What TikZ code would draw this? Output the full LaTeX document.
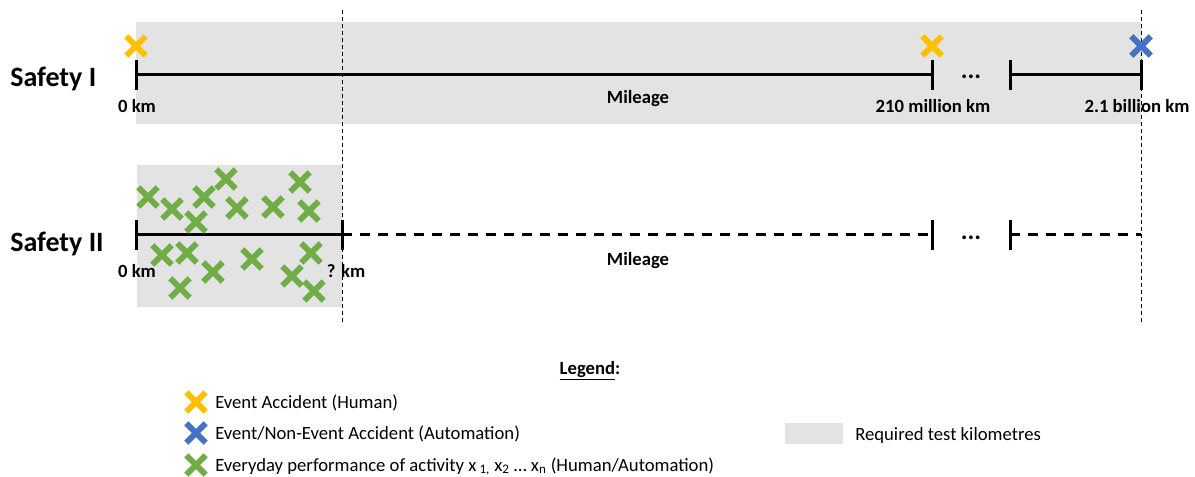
\documentclass[tikz,border=0pt]{standalone}
\usepackage{fontspec}
\setmainfont{Carlito}
\usetikzlibrary{positioning}
\usetikzlibrary{shapes.misc}
\definecolor{eventyellow}{RGB}{255,192,0}
\definecolor{eventblue}{RGB}{68,114,196}
\definecolor{everydaygreen}{RGB}{112,173,71}
\definecolor{testgray}{RGB}{227,227,227}

\begin{document}
\begin{tikzpicture}[x=0.75pt, y=-0.75pt,
  every node/.style={font=\fontsize{14}{16}\selectfont},
  title/.style={font=\fontsize{21}{24}\selectfont\bfseries, anchor=base west, inner sep=0pt},
  kmlabel/.style={font=\fontsize{14}{16}\selectfont\bfseries, anchor=base},
  dots/.style={font=\fontsize{19}{20}\selectfont\bfseries, anchor=base},
  legendtext/.style={anchor=base west, inner sep=0pt},
  xmark/.style={cross out, draw, line width=4.5pt, minimum size=10pt, inner sep=0pt},
  axis/.style={line width=2.25pt},
  future/.style={axis, dash pattern=on 7.5pt off 6pt},
  border/.style={line width=0.75pt, dash pattern=on 3pt off 2.25pt},
  testarea/.style={fill=testgray, draw=none},
]
  \useasboundingbox (0,0) rectangle (1195,477);

  \fill[testarea] (136,22) rectangle (1141,124);
  \fill[testarea] (137,165) rectangle (342,307);

  \coordinate (limitTop) at (342,10);
  \coordinate (limitBottom) at (342,325);
  \coordinate (goalTop) at (1141,10);
  \coordinate (goalBottom) at (1141,325);
  \draw[border] (limitTop) -- (limitBottom);
  \draw[border] (goalTop) -- (goalBottom);

  % Safety I
  \node[title] (safetyI) at (10,87) {Safety I};
  \coordinate (s1start) at (136,75);
  \coordinate (s1mid) at (932,75);
  \coordinate (s1cont) at (1010,75);
  \coordinate (s1end) at (1141,75);
  \draw[axis] (s1start) -- (s1mid);
  \draw[axis] (s1cont) -- (s1end);
  \foreach \c in {s1start,s1mid,s1cont,s1end}
    \draw[axis] ([yshift=11.25pt]\c) -- ([yshift=-11.25pt]\c);
  \node[dots] (s1dots) at (971,79) {...};
  \node[kmlabel] (s1zero) at (137,113) {0 km};
  \node[kmlabel] (s1mileage) at (638,104) {Mileage};
  \node[kmlabel] (s1human) at (933,113) {210 million km};
  \node[kmlabel] (s1auto) at (1137,113) {2.1 billion km};
  \node[xmark, eventyellow] (acc0) at (136,46) {};
  \node[xmark, eventyellow] (acc1) at (932,46) {};
  \node[xmark, eventblue] (acc2) at (1141,46) {};

  % Safety II
  \node[title] (safetyII) at (10,252) {Safety II};
  \coordinate (s2start) at (136,235);
  \coordinate (s2limit) at (342,235);
  \coordinate (s2mid) at (932,235);
  \coordinate (s2cont) at (1010,235);
  \coordinate (s2end) at (1141,235);
  \draw[axis] (s2start) -- (s2limit);
  \draw[future] (s2limit) -- (s2mid);
  \draw[future] (s2cont) -- (s2end);
  \foreach \c in {s2start,s2limit,s2mid,s2cont}
    \draw[axis] ([yshift=11.25pt]\c) -- ([yshift=-11.25pt]\c);
  \node[dots] (s2dots) at (971,239) {...};
  \node[kmlabel] (s2zero) at (137,277) {0 km};
  \node[kmlabel] (s2unknown) at (346,277) {? km};
  \node[kmlabel] (s2mileage) at (638,266) {Mileage};
  \foreach \x/\y [count=\i] in {148/197, 172/209, 204/197, 226/179, 196/222, 237/208,
      273/207, 300/182, 309/211, 162/255, 187/253, 213/272, 180/288, 252/259,
      311/253, 292/276, 314/291}
    \node[xmark, everydaygreen] (day\i) at (\x,\y) {};

  % legend
  \node[kmlabel] (legend) at (590,374) {\underline{Legend}:};
  \node[xmark, eventyellow] (keyHuman) at (196,402) {};
  \node[xmark, eventblue] (keyAuto) at (196,433) {};
  \node[xmark, everydaygreen] (keyDay) at (196,465) {};
  \node[legendtext] (txtHuman) at (215,408) {Event Accident (Human)};
  \node[legendtext] (txtAuto) at (215,439) {Event/Non-Event Accident (Automation)};
  \node[legendtext] (txtDay) at (215,471)
    {Everyday performance of activity x\,\textsubscript{1,} x\textsubscript{2} … x\textsubscript{n} (Human/Automation)};
  \fill[testarea] (785,423) rectangle (843,444);
  \node[legendtext] (txtArea) at (855,440) {Required test kilometres};
\end{tikzpicture}
\end{document}
